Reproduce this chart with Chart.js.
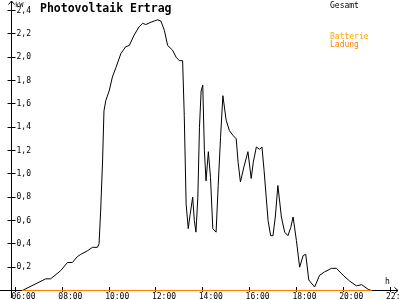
<!DOCTYPE html>
<html>
<head>
<meta charset="utf-8">
<script src="https://cdn.jsdelivr.net/npm/chart.js@4"></script>
<style>
html, body { margin: 0; padding: 0; background: #fff; }
#box { position: relative; width: 400px; height: 300px; }
</style>
</head>
<body>
<div id="box"><canvas id="ertrag"></canvas></div>
<script>
// Uhrzeit in Stunden (dezimal) und Leistung in kW
const stunden = [
  6.29, 7.29, 7.50, 7.93, 8.22, 8.43, 8.64, 8.79, 9.07, 9.29,
  9.50, 9.57, 9.64, 9.72, 9.78, 9.86, 10.00, 10.14, 10.29, 10.50,
  10.71, 10.86, 11.07, 11.28, 11.43, 11.57, 11.79, 11.93, 12.07, 12.21,
  12.36, 12.50, 12.71, 12.86, 13.00, 13.14, 13.21, 13.29, 13.38, 13.46,
  13.57, 13.64, 13.71, 13.79, 13.86, 13.93, 14.00, 14.07, 14.14, 14.24,
  14.33, 14.43, 14.57, 14.66, 14.76, 14.86, 15.00, 15.14, 15.29, 15.43,
  15.51, 15.61, 15.76, 15.93, 16.07, 16.16, 16.29, 16.43, 16.53, 16.62,
  16.79, 16.90, 17.00, 17.10, 17.21, 17.36, 17.50, 17.64, 17.76, 17.86,
  18.00, 18.14, 18.29, 18.40, 18.53, 18.78, 18.99, 19.21, 19.50, 19.71,
  20.00, 20.28, 20.57, 20.79, 21.07, 21.21
];
const gesamt = [
  0.00, 0.10, 0.10, 0.17, 0.24, 0.24, 0.29, 0.31, 0.34, 0.37,
  0.37, 0.40, 0.69, 1.11, 1.54, 1.63, 1.71, 1.83, 1.91, 2.03,
  2.09, 2.10, 2.19, 2.26, 2.29, 2.28, 2.30, 2.31, 2.32, 2.31,
  2.23, 2.10, 2.06, 2.00, 1.97, 1.97, 1.50, 0.74, 0.53, 0.65,
  0.80, 0.60, 0.50, 0.80, 1.40, 1.71, 1.76, 1.20, 0.94, 1.19,
  0.97, 0.53, 0.50, 0.90, 1.31, 1.67, 1.46, 1.37, 1.33, 1.30,
  1.10, 0.93, 1.06, 1.19, 0.96, 1.10, 1.23, 1.21, 1.23, 1.03,
  0.60, 0.47, 0.47, 0.63, 0.90, 0.63, 0.50, 0.47, 0.54, 0.63,
  0.43, 0.20, 0.30, 0.31, 0.09, 0.03, 0.13, 0.16, 0.19, 0.19,
  0.13, 0.08, 0.04, 0.05, 0.01, 0.00
];
// Batterie und Ladung liegen den ganzen Tag bei 0
const batterieZeit = [6.29, 21.21];
const batterie = [0, 0];
const ladungZeit = [6.29, 21.21];
const ladung = [0, 0];

const titel = 'Photovoltaik Ertrag';
const mono = '"DejaVu Sans Mono", monospace';

function punkte(xs, ys) {
  return xs.map((x, i) => ({ x: x, y: ys[i] }));
}

// Achsen mit Pfeilen, Striche und Beschriftung selbst zeichnen
const achsenPlugin = {
  id: 'achsen',
  beforeDatasetsDraw(chart) {
    const ctx = chart.ctx;
    const xs = chart.scales.x;
    const ys = chart.scales.y;
    const ax = chart.chartArea.left - 4;
    const ay = chart.chartArea.bottom;
    ctx.save();
    ctx.strokeStyle = '#000';
    ctx.lineWidth = 1;
    ctx.beginPath();
    // y-Achse
    ctx.moveTo(ax, 1); ctx.lineTo(ax, 298);
    ctx.moveTo(ax - 3, 4.5); ctx.lineTo(ax, 1); ctx.lineTo(ax + 3, 4.5);
    // x-Achse
    ctx.moveTo(0, ay); ctx.lineTo(398, ay);
    ctx.moveTo(394.5, ay - 3); ctx.lineTo(398, ay); ctx.lineTo(394.5, ay + 3);
    ys.ticks.forEach(t => {
      if (t.value <= 0) return;
      const py = Math.round(ys.getPixelForValue(t.value) - 0.5) + 0.5;
      ctx.moveTo(ax - 4, py); ctx.lineTo(ax + 4, py);
    });
    xs.ticks.forEach(t => {
      const px = Math.round(xs.getPixelForValue(t.value) - 0.5) + 0.5;
      ctx.moveTo(px, ay - 3.5); ctx.lineTo(px, ay + 1.5);
    });
    ctx.stroke();
    ctx.restore();
  },
  afterDraw(chart) {
    const ctx = chart.ctx;
    ctx.save();
    ctx.textBaseline = 'alphabetic';
    ctx.fillStyle = '#000';
    ctx.font = 'bold 11.5px ' + mono;
    ctx.fillText(titel, 40, 11.7);
    ctx.font = '8px ' + mono;
    ctx.fillText('Gesamt', 330, 7.5);
    ctx.fillText('h', 385, 284);
    ctx.font = '7px ' + mono;
    ctx.fillText('kW', 15, 6.7);
    ctx.font = '8px ' + mono;
    ctx.fillStyle = '#ffa500';
    ctx.fillText('Batterie', 330, 39);
    ctx.fillStyle = '#ff8000';
    ctx.fillText('Ladung', 330, 46.5);
    ctx.restore();
  }
};

new Chart(document.getElementById('ertrag'), {
  type: 'line',
  data: {
    datasets: [
      {
        label: 'Ladung',
        data: punkte(ladungZeit, ladung),
        borderColor: '#ff8000',
        borderWidth: 1.2,
        pointRadius: 0,
        clip: 5
      },
      {
        label: 'Batterie',
        data: punkte(batterieZeit, batterie),
        borderColor: '#ffa500',
        borderWidth: 1,
        pointRadius: 0,
        clip: 5
      },
      {
        label: 'Gesamt',
        data: punkte(stunden, gesamt),
        borderColor: '#000',
        borderWidth: 1,
        pointRadius: 0,
        tension: 0,
        clip: 5
      }
    ]
  },
  options: {
    responsive: true,
    maintainAspectRatio: false,
    animation: false,
    layout: { padding: { top: 10.5, right: 10, left: 0, bottom: 0 } },
    plugins: {
      legend: { display: false },
      title: { display: false },
      tooltip: { enabled: false }
    },
    scales: {
      x: {
        type: 'linear',
        min: 6,
        max: 22,
        grid: { display: false, drawTicks: false },
        border: { display: false },
        ticks: {
          stepSize: 2,
          autoSkip: false,
          maxRotation: 0,
          align: 'start',
          labelOffset: -4,
          padding: 2,
          color: '#000',
          font: { family: mono, size: 8 },
          callback: v => String(v).padStart(2, '0') + ':00'
        },
        afterFit: s => { s.height = 9.5; s.paddingLeft = 0; s.paddingRight = 0; }
      },
      y: {
        min: 0,
        max: 2.4,
        grid: { display: false, drawTicks: false },
        border: { display: false },
        ticks: {
          stepSize: 0.2,
          mirror: true,
          padding: 1,
          color: '#000',
          font: { family: mono, size: 8 },
          callback: v => v <= 0 ? '' : v.toFixed(1).replace('.', ',')
        },
        afterFit: s => { s.width = 15.5; s.paddingTop = 0; s.paddingBottom = 0; }
      }
    }
  },
  plugins: [achsenPlugin]
});
</script>
</body>
</html>
